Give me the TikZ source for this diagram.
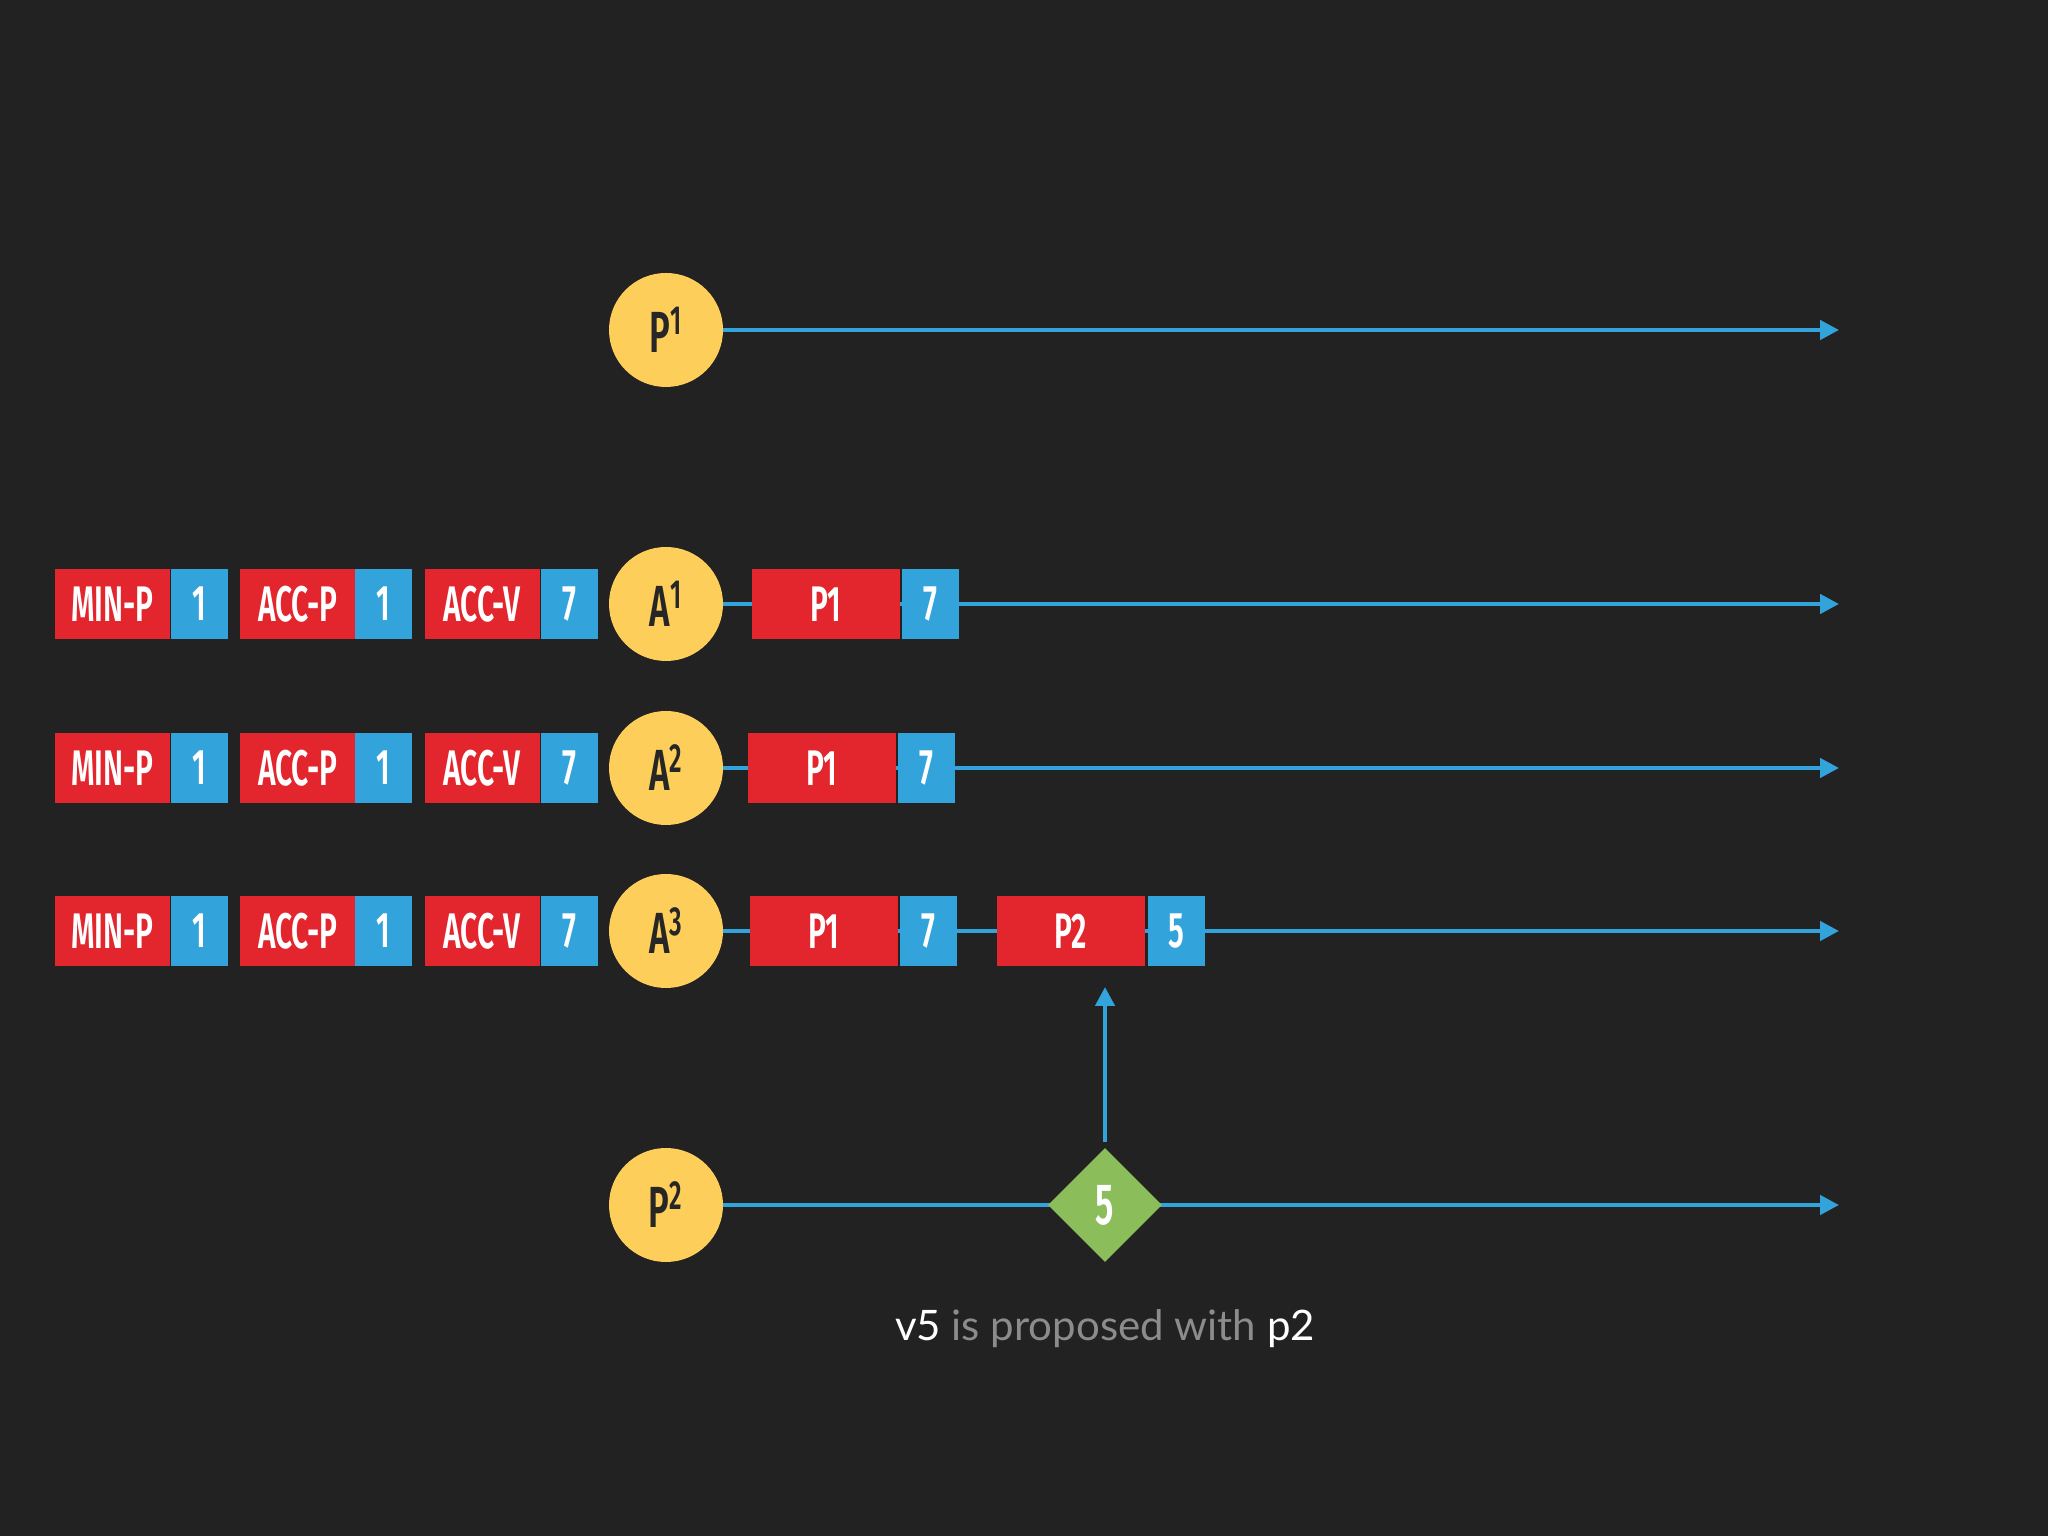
\documentclass[tikz,border=0pt]{standalone}
\usepackage{fontspec}
\usetikzlibrary{positioning,arrows.meta,shapes.geometric}
\newfontfamily\dinfont{Fira Sans SemiBold}[FakeStretch=0.6]
\newfontfamily\capfont{Lato}
\definecolor{slate}{HTML}{222223}
\definecolor{tomato}{HTML}{E3252D}
\definecolor{sky}{HTML}{33A3DB}
\definecolor{sunny}{HTML}{FECE5B}
\definecolor{leaf}{HTML}{8BBD5B}
\definecolor{ink}{HTML}{262626}
\definecolor{dim}{HTML}{8C8C8C}
\tikzset{
  agent/.style={circle,fill=sunny,minimum size=57pt,inner sep=0pt,outer sep=0pt,text=ink,
    font=\dinfont\fontsize{29}{29}\selectfont},
  tag/.style={fill=tomato,minimum width=57.5pt,minimum height=35pt,inner sep=0pt,outer sep=0pt,
    text=white,font=\dinfont\fontsize{25}{25}\selectfont},
  widetag/.style={tag,minimum width=74pt},
  num/.style={tag,fill=sky,minimum width=28.5pt},
  timeline/.style={draw=sky,line width=2.2pt,-{Triangle[length=9.5pt,width=9.5pt]}},
  proposal/.style={diamond,fill=leaf,minimum size=57pt,inner sep=0pt,text=white,
    font=\dinfont\fontsize{29}{29}\selectfont}
}
\begin{document}
\begin{tikzpicture}[x=0.5pt,y=0.5pt]
\fill[slate] (0,0) rectangle (2048,1536);
\useasboundingbox (0,0) rectangle (2048,1536);
% proposers and acceptors
\node[agent] (P1) at (666,1206) {P\textsuperscript{1}};
\node[agent] (A1) at (666,932) {A\textsuperscript{1}};
\node[agent] (A2) at (666,768) {A\textsuperscript{2}};
\node[agent] (A3) at (666,605) {A\textsuperscript{3}};
\node[agent] (P2) at (666,331) {P\textsuperscript{2}};
\coordinate (endP1) at (1839,1206);
\coordinate (endA1) at (1839,932);
\coordinate (endA2) at (1839,768);
\coordinate (endA3) at (1839,605);
\coordinate (endP2) at (1839,331);
\draw[timeline] (P1) -- (endP1);
\draw[timeline] (A1) -- (endA1);
\draw[timeline] (A2) -- (endA2);
\draw[timeline] (A3) -- (endA3);
\draw[timeline] (P2) -- (endP2);
% acceptor state
\node[num,left=5.7pt of A1] (accvv1) {7};
\node[tag,left=0.5pt of accvv1] (accv1) {ACC-V};
\node[num,left=6.2pt of accv1] (accpv1) {1};
\node[tag,left=0pt of accpv1] (accp1) {ACC-P};
\node[num,left=6.2pt of accp1] (minpv1) {1};
\node[tag,left=0.5pt of minpv1] (minp1) {MIN-P};
\node[num,left=5.7pt of A2] (accvv2) {7};
\node[tag,left=0.5pt of accvv2] (accv2) {ACC-V};
\node[num,left=6.2pt of accv2] (accpv2) {1};
\node[tag,left=0pt of accpv2] (accp2) {ACC-P};
\node[num,left=6.2pt of accp2] (minpv2) {1};
\node[tag,left=0.5pt of minpv2] (minp2) {MIN-P};
\node[num,left=5.7pt of A3] (accvv3) {7};
\node[tag,left=0.5pt of accvv3] (accv3) {ACC-V};
\node[num,left=6.2pt of accv3] (accpv3) {1};
\node[tag,left=0pt of accpv3] (accp3) {ACC-P};
\node[num,left=6.2pt of accp3] (minpv3) {1};
\node[tag,left=0.5pt of minpv3] (minp3) {MIN-P};
% messages on the timelines
\node[widetag,right=14.5pt of A1] (msg1) {P1};
\node[num,right=1pt of msg1] (msgv1) {7};
\node[widetag,right=12.5pt of A2] (msg2) {P1};
\node[num,right=1pt of msg2] (msgv2) {7};
\node[widetag,right=13.5pt of A3] (msg3) {P1};
\node[num,right=1pt of msg3] (msgv3) {7};
\node[widetag,right=19.75pt of msgv3] (msg4) {P2};
\node[num,right=1.5pt of msg4] (msgv4) {5};
% value proposed by P2
\node[proposal] (v5) at (1105,331) {5};
\coordinate (hit) at (1105,549);
\draw[timeline,shorten <=3pt] (v5.north) -- (hit);
\node[anchor=base,font=\capfont\fontsize{21}{21}\selectfont,text=dim] (caption) at (1105,196)
  {\textcolor{white}{v5} is proposed with \textcolor{white}{p2}};
\end{tikzpicture}
\end{document}
